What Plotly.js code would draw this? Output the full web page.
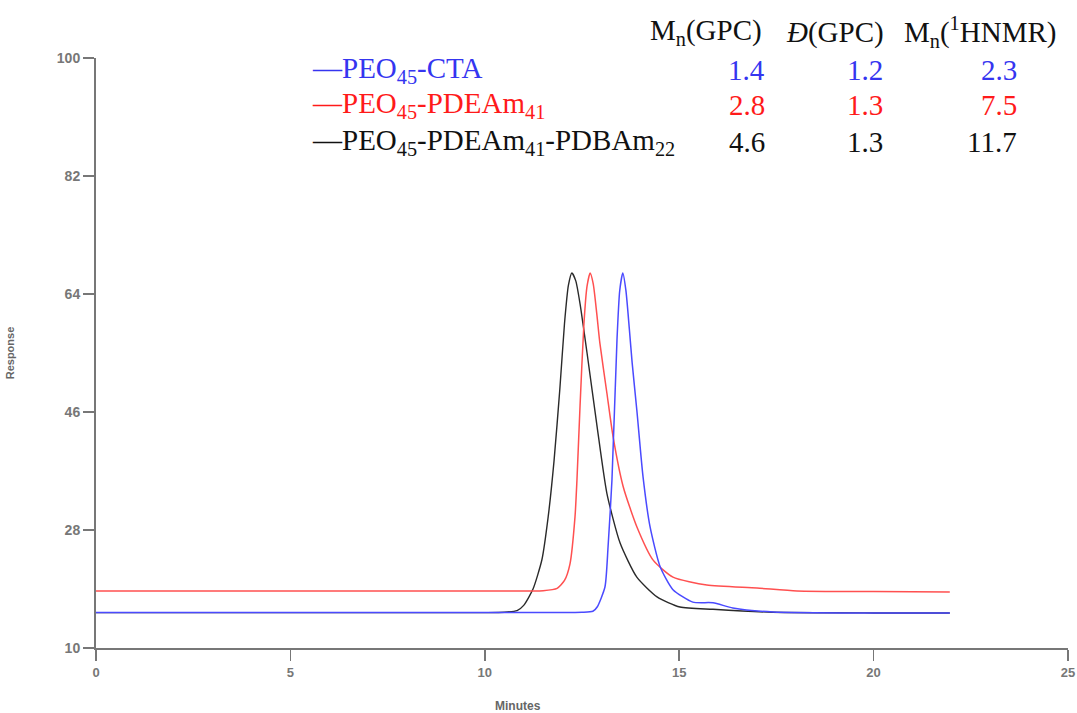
<!DOCTYPE html>
<html>
<head>
<meta charset="utf-8">
<script src="https://cdn.plot.ly/plotly-3.0.1.min.js"></script>
<style>
html,body{margin:0;padding:0;background:#fff;}
#chart{width:1077px;height:713px;}
</style>
</head>
<body>
<div id="chart"></div>
<script>
// Retention time (minutes) and detector response for each sample
const blackX = [0, 5, 10, 10.5, 10.83, 11.0, 11.24, 11.47, 11.63, 11.78, 11.93, 12.05, 12.15, 12.24, 12.34, 12.45, 12.63, 12.89, 13.14, 13.48, 13.91, 14.43, 15.02, 15.87, 17.4, 20, 21.96];
const blackY = [15.4, 15.4, 15.4, 15.45, 15.7, 16.5, 19.0, 23.5, 30.0, 38.5, 49.5, 59.5, 65.3, 67.2, 66.0, 62.5, 55.0, 43.7, 33.6, 26.0, 20.8, 17.8, 16.25, 15.9, 15.45, 15.35, 15.35];

const redX = [0, 5, 10, 11.5, 11.86, 12.05, 12.19, 12.32, 12.37, 12.45, 12.55, 12.63, 12.71, 12.79, 12.88, 12.96, 13.14, 13.30, 13.56, 13.91, 14.33, 14.84, 15.71, 17.0, 18.03, 20, 21.96];
const redY = [18.7, 18.7, 18.7, 18.75, 19.1, 20.3, 22.8, 30.0, 35.6, 47.0, 59.5, 65.2, 67.2, 65.5, 61.0, 56.5, 48.9, 42.2, 34.6, 28.5, 23.4, 20.8, 19.6, 19.15, 18.7, 18.6, 18.55];

const blueX = [0, 5, 10, 12.5, 12.78, 12.89, 13.09, 13.17, 13.27, 13.40, 13.47, 13.55, 13.63, 13.72, 13.79, 13.91, 14.07, 14.25, 14.51, 14.84, 15.35, 15.87, 16.38, 17.41, 20, 21.96];
const blueY = [15.4, 15.4, 15.4, 15.45, 15.6, 16.25, 19.3, 25.4, 35.6, 57.0, 64.5, 67.2, 64.5, 58.5, 53.5, 46.3, 36.1, 28.5, 22.4, 18.9, 17.0, 16.9, 16.1, 15.5, 15.35, 15.35];

// Tick values
const xTicks = [0, 5, 10, 15, 20, 25];
const yTicks = [10, 28, 46, 64, 82, 100];

// Inset table
const sampleNames = ["PEO<sub>45</sub>-CTA", "PEO<sub>45</sub>-PDEAm<sub>41</sub>", "PEO<sub>45</sub>-PDEAm<sub>41</sub>-PDBAm<sub>22</sub>"];
const mnGPC = ["1.4", "2.8", "4.6"];
const dispGPC = ["1.2", "1.3", "1.3"];
const mnNMR = ["2.3", "7.5", "11.7"];
const headers = ["M<sub>n</sub>(GPC)", "<i>Đ</i>(GPC)", "M<sub>n</sub>(<sup>1</sup>HNMR)"];

const lineColors = ["#2a2a2a", "#ff5050", "#4a4aff"];
const textColors = ["#3535f0", "#ff1a1a", "#111111"];

const traces = [
  {x: blackX, y: blackY, mode: "lines", line: {color: lineColors[0], width: 1.4, shape: "spline", smoothing: 0.6}, name: "black"},
  {x: redX, y: redY, mode: "lines", line: {color: lineColors[1], width: 1.5, shape: "spline", smoothing: 0.6}, name: "red"},
  {x: blueX, y: blueY, mode: "lines", line: {color: lineColors[2], width: 1.5, shape: "spline", smoothing: 0.6}, name: "blue"}
];

const serif = "Liberation Serif, Times New Roman, serif";
const sans = "Liberation Sans, Arial, sans-serif";
const fs = 29;
const rowY = [0.980, 0.920, 0.858];
const annotations = [];
const headerX = [0.568, 0.708, 0.829];
headers.forEach((h, i) => annotations.push({
  xref: "paper", yref: "paper", x: headerX[i], y: 1.044, xanchor: "left", yanchor: "middle",
  text: h, showarrow: false, font: {family: serif, size: fs, color: "#111"}
}));
sampleNames.forEach((n, i) => {
  const c = textColors[i];
  annotations.push({xref: "paper", yref: "paper", x: 0.2202, y: rowY[i], xanchor: "left", yanchor: "middle",
    text: "—" + n, showarrow: false, font: {family: serif, size: fs, color: c}});
  annotations.push({xref: "paper", yref: "paper", x: 0.690, y: rowY[i], xanchor: "right", yanchor: "middle",
    text: mnGPC[i], showarrow: false, font: {family: serif, size: fs, color: c}});
  annotations.push({xref: "paper", yref: "paper", x: 0.791, y: rowY[i], xanchor: "center", yanchor: "middle",
    text: dispGPC[i], showarrow: false, font: {family: serif, size: fs, color: c}});
  annotations.push({xref: "paper", yref: "paper", x: 0.950, y: rowY[i], xanchor: "right", yanchor: "middle",
    text: mnNMR[i], showarrow: false, font: {family: serif, size: fs, color: c}});
});
annotations.push({xref: "paper", yref: "paper", x: (518 - 96) / 972, y: -0.099, xanchor: "center", yanchor: "middle",
  text: "Minutes", showarrow: false, font: {family: sans, size: 12, color: "#666", weight: "bold"}});

const layout = {
  width: 1077, height: 713,
  margin: {l: 96, r: 9, t: 58, b: 65},
  paper_bgcolor: "#fff", plot_bgcolor: "#fff",
  showlegend: false,
  xaxis: {
    range: [0, 25], tickvals: xTicks, ticktext: xTicks.map(String),
    showgrid: false, zeroline: false, showline: true, linecolor: "#777", linewidth: 2,
    ticks: "outside", ticklen: 11, tickcolor: "#777", tickwidth: 1.5,
    tickfont: {family: sans, size: 13, color: "#777", weight: "bold"},
    fixedrange: true
  },
  yaxis: {
    range: [10, 100], tickvals: yTicks, ticktext: yTicks.map(String),
    showgrid: false, zeroline: false, showline: true, linecolor: "#777", linewidth: 2,
    ticks: "outside", ticklen: 11, tickcolor: "#777", tickwidth: 1.5,
    tickfont: {family: sans, size: 14, color: "#777", weight: "bold"},
    title: {text: "Response", font: {family: sans, size: 11, color: "#666", weight: "bold"}, standoff: 40},
    fixedrange: true
  },
  annotations: annotations
};

Plotly.newPlot("chart", traces, layout, {displayModeBar: false, staticPlot: true});
</script>
</body>
</html>
